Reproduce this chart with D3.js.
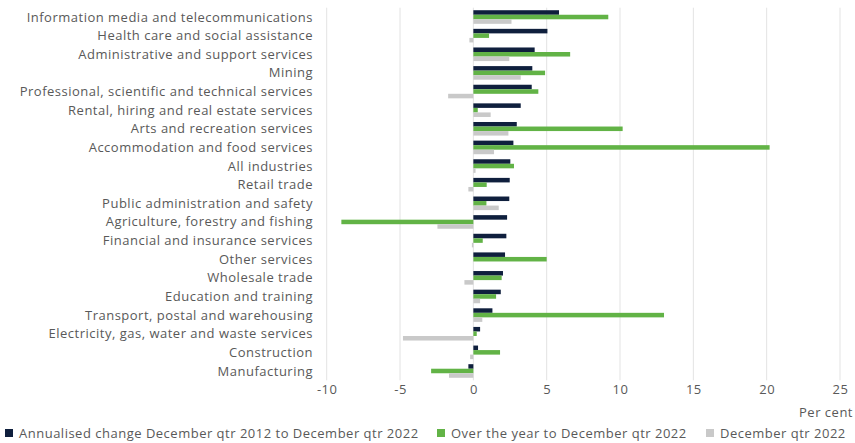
<!DOCTYPE html>
<html>
<head>
<meta charset="utf-8">
<script src="https://cdn.jsdelivr.net/npm/d3@7"></script>
<style>
  html, body { margin: 0; padding: 0; background: #ffffff; }
  svg { display: block; font-family: "Open Sans", sans-serif; }
</style>
</head>
<body>
<svg id="chart" width="855" height="443"></svg>
<script>
// Industries, top to bottom
const industries = [
  "Information media and telecommunications",
  "Health care and social assistance",
  "Administrative and support services",
  "Mining",
  "Professional, scientific and technical services",
  "Rental, hiring and real estate services",
  "Arts and recreation services",
  "Accommodation and food services",
  "All industries",
  "Retail trade",
  "Public administration and safety",
  "Agriculture, forestry and fishing",
  "Financial and insurance services",
  "Other services",
  "Wholesale trade",
  "Education and training",
  "Transport, postal and warehousing",
  "Electricity, gas, water and waste services",
  "Construction",
  "Manufacturing"
];

// Per cent change, one value per industry
const annualised10yr = [5.84, 5.05, 4.18, 4.02, 3.98, 3.23, 2.96, 2.73, 2.52, 2.48,
                        2.45, 2.30, 2.25, 2.16, 2.02, 1.87, 1.30, 0.46, 0.32, -0.34];
const overTheYear    = [9.2, 1.07, 6.6, 4.89, 4.43, 0.3, 10.18, 20.2, 2.77, 0.91,
                        0.89, -9.0, 0.64, 5.0, 1.93, 1.55, 13.0, 0.23, 1.82, -2.88];
const decQtr         = [2.6, -0.27, 2.45, 3.23, -1.72, 1.18, 2.39, 1.41, 0.15, -0.34,
                        1.73, -2.45, -0.1, 0.0, -0.61, 0.46, 0.61, -4.8, -0.22, -1.66];

const seriesNames = [
  "Annualised change December qtr 2012 to December qtr 2022",
  "Over the year to December qtr 2022",
  "December qtr 2022"
];
const seriesColors = ["#0f1f3d", "#62b346", "#c9c9c9"];
const xTicks = [-10, -5, 0, 5, 10, 15, 20, 25];

const svg = d3.select("#chart");
const plot = { left: 326.7, right: 840, top: 7.7, bottom: 380.3 };
const textColor = "#595959";
const fontSize = 13;
const spacing = 0.5;

const x = d3.scaleLinear().domain([-10, 25]).range([plot.left, plot.right]);
const y = d3.scaleBand().domain(industries).range([plot.top, plot.bottom]).paddingInner(0.27).paddingOuter(0.135);
const sub = d3.scaleBand().domain([0, 1, 2]).range([0, y.bandwidth()]);

// Vertical gridlines
svg.append("g")
  .selectAll("line")
  .data(xTicks)
  .join("line")
  .attr("x1", d => x(d)).attr("x2", d => x(d))
  .attr("y1", plot.top).attr("y2", plot.bottom)
  .attr("stroke", "#e3e3e3")
  .attr("stroke-width", 1);

// Bars
const data = [annualised10yr, overTheYear, decQtr];
const groups = svg.append("g")
  .selectAll("g")
  .data(industries)
  .join("g")
  .attr("transform", d => `translate(0,${y(d)})`);

groups.selectAll("rect")
  .data((d, i) => data.map((s, k) => ({ k, v: s[i] })))
  .join("rect")
  .attr("x", d => x(Math.min(0, d.v)))
  .attr("width", d => Math.abs(x(d.v) - x(0)))
  .attr("y", d => sub(d.k))
  .attr("height", sub.bandwidth())
  .attr("fill", d => seriesColors[d.k]);

// Category labels
svg.append("g")
  .selectAll("text")
  .data(industries)
  .join("text")
  .attr("x", 313)
  .attr("y", d => y(d) + y.bandwidth() / 2)
  .attr("dy", "0.35em")
  .attr("text-anchor", "end")
  .attr("font-size", fontSize)
  .attr("letter-spacing", spacing)
  .attr("fill", textColor)
  .text(d => d);

// X axis labels (plain hyphen for negatives)
const xAxis = d3.axisBottom(x).tickValues(xTicks).tickSize(0).tickPadding(4)
  .tickFormat(d => String(d));
const gx = svg.append("g")
  .attr("transform", `translate(0,${plot.bottom})`)
  .call(xAxis);
gx.select(".domain").remove();
gx.selectAll("text")
  .attr("font-family", "'Open Sans', sans-serif")
  .attr("font-size", fontSize)
  .attr("letter-spacing", spacing)
  .attr("fill", textColor);

svg.append("text")
  .attr("x", 853).attr("y", 412)
  .attr("dy", "0.35em")
  .attr("text-anchor", "end")
  .attr("font-size", fontSize)
  .attr("letter-spacing", spacing)
  .attr("fill", textColor)
  .text("Per cent");

// Legend
const legendX = [5, 437, 706];
const legend = svg.append("g")
  .selectAll("g")
  .data(seriesNames)
  .join("g")
  .attr("transform", (d, i) => `translate(${legendX[i]},433)`);
legend.append("rect")
  .attr("x", 0).attr("y", -4)
  .attr("width", 8).attr("height", 8)
  .attr("fill", (d, i) => seriesColors[i]);
legend.append("text")
  .attr("x", 14).attr("y", 0)
  .attr("dy", "0.35em")
  .attr("font-size", fontSize)
  .attr("letter-spacing", spacing)
  .attr("fill", textColor)
  .text(d => d);
</script>
</body>
</html>
